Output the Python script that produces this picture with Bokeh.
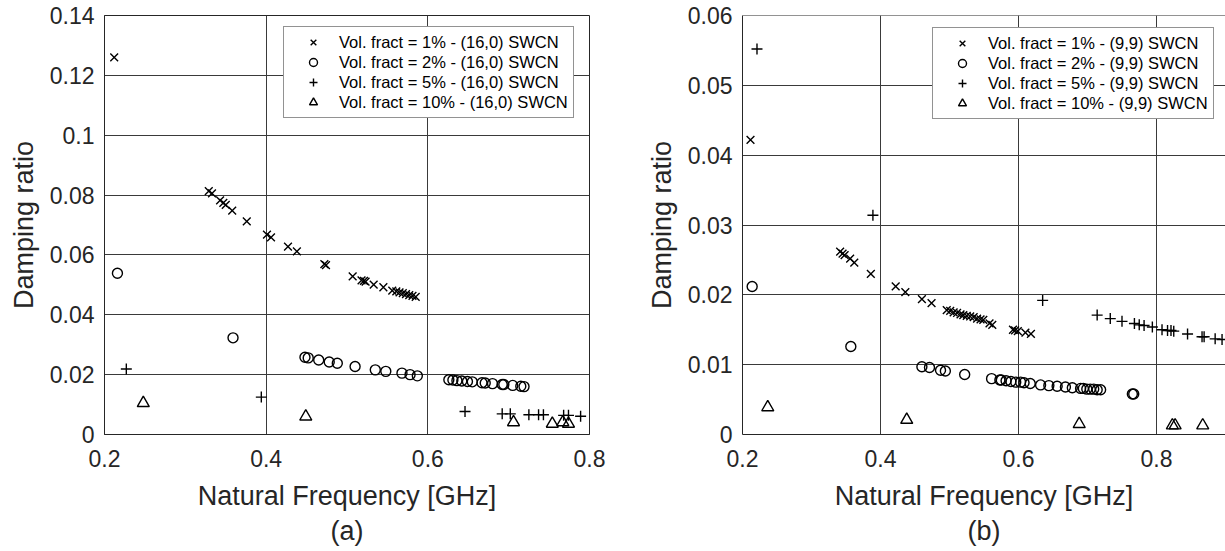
from bokeh.plotting import figure
from bokeh.layouts import row
from bokeh.models import (Range1d, FixedTicker, Legend, LegendItem, Title, Span)
from bokeh.embed import file_html
from bokeh.resources import INLINE

# ---------------- data: (a) (16,0) SWCN ----------------
a_x_1 = [0.212, 0.329, 0.333, 0.343, 0.347, 0.350, 0.358, 0.376, 0.401, 0.406, 0.427, 0.438,
         0.472, 0.474, 0.507, 0.518, 0.521, 0.523, 0.533, 0.545, 0.556, 0.561, 0.565, 0.569,
         0.573, 0.577, 0.581, 0.585]
a_y_1 = [0.126, 0.0813, 0.0806, 0.0782, 0.0774, 0.0767, 0.0748, 0.0712, 0.0668, 0.0659, 0.0628,
         0.0612, 0.0569, 0.0566, 0.0528, 0.0515, 0.0513, 0.0511, 0.0501, 0.0492, 0.0481, 0.0478,
         0.0475, 0.0472, 0.0469, 0.0466, 0.0463, 0.0460]
a_x_2 = [0.216, 0.359, 0.448, 0.452, 0.465, 0.478, 0.488, 0.510, 0.535, 0.548, 0.568, 0.578,
         0.587, 0.626, 0.631, 0.636, 0.642, 0.649, 0.655, 0.667, 0.671, 0.680, 0.692, 0.694,
         0.705, 0.715, 0.719]
a_y_2 = [0.0539, 0.0323, 0.0258, 0.0256, 0.0249, 0.0242, 0.0238, 0.0227, 0.0216, 0.0211, 0.0205,
         0.0200, 0.0196, 0.0183, 0.0182, 0.0180, 0.0179, 0.0177, 0.0176, 0.0173, 0.0172, 0.0170,
         0.0167, 0.0167, 0.0164, 0.0161, 0.0160]
a_x_5 = [0.227, 0.394, 0.646, 0.692, 0.702, 0.725, 0.737, 0.743, 0.768, 0.774, 0.789]
a_y_5 = [0.0219, 0.0125, 0.0077, 0.0069, 0.0069, 0.0066, 0.0066, 0.0066, 0.0064, 0.0064, 0.0061]
a_x_10 = [0.248, 0.449, 0.706, 0.754, 0.767, 0.774]
a_y_10 = [0.0105, 0.0060, 0.0041, 0.0036, 0.0041, 0.0036]

# ---------------- data: (b) (9,9) SWCN ----------------
b_x_1 = [0.2116, 0.3415, 0.345, 0.348, 0.356, 0.362, 0.386, 0.422, 0.436, 0.460, 0.474, 0.496,
         0.501, 0.506, 0.511, 0.516, 0.520, 0.525, 0.530, 0.535, 0.540, 0.545, 0.549, 0.558,
         0.562, 0.592, 0.595, 0.599, 0.610, 0.618]
b_y_1 = [0.0422, 0.0262, 0.0259, 0.0257, 0.0252, 0.0246, 0.0230, 0.0212, 0.0204, 0.0194, 0.0188,
         0.0178, 0.0177, 0.0175, 0.0174, 0.0172, 0.0171, 0.0170, 0.0169, 0.0168, 0.0166, 0.0165,
         0.0164, 0.0159, 0.0157, 0.0150, 0.0149, 0.0148, 0.0146, 0.0144]
b_x_2 = [0.214, 0.357, 0.460, 0.471, 0.487, 0.494, 0.522, 0.561, 0.573, 0.575, 0.582, 0.589,
         0.596, 0.603, 0.608, 0.617, 0.632, 0.644, 0.656, 0.668, 0.678, 0.690, 0.694, 0.699,
         0.704, 0.709, 0.714, 0.719, 0.765, 0.767]
b_y_2 = [0.0212, 0.0126, 0.0097, 0.0096, 0.0092, 0.0091, 0.0086, 0.0080, 0.0078, 0.0078, 0.0077,
         0.0076, 0.0075, 0.0075, 0.0074, 0.0073, 0.0071, 0.0070, 0.0069, 0.0068, 0.0067, 0.0066,
         0.0066, 0.0065, 0.0065, 0.0065, 0.0064, 0.0064, 0.0058, 0.0058]
b_x_5 = [0.221, 0.389, 0.635, 0.714, 0.733, 0.750, 0.768, 0.775, 0.782, 0.794, 0.808, 0.816,
         0.821, 0.825, 0.845, 0.866, 0.869, 0.885, 0.895]
b_y_5 = [0.0552, 0.0314, 0.0192, 0.0171, 0.0166, 0.0162, 0.0159, 0.0157, 0.0156, 0.0154, 0.0150,
         0.0149, 0.0149, 0.0148, 0.0144, 0.0140, 0.0140, 0.0137, 0.0136]
b_x_10 = [0.2366, 0.438, 0.688, 0.823, 0.827, 0.867]
b_y_10 = [0.0039, 0.0021, 0.0015, 0.0013, 0.0013, 0.0013]

a_labels = ["Vol. fract = 1% - (16,0) SWCN", "Vol. fract = 2% - (16,0) SWCN",
            "Vol. fract = 5% - (16,0) SWCN", "Vol. fract = 10% - (16,0) SWCN"]
b_labels = ["Vol. fract = 1% - (9,9) SWCN", "Vol. fract = 2% - (9,9) SWCN",
            "Vol. fract = 5% - (9,9) SWCN", "Vol. fract = 10% - (9,9) SWCN"]

x_ticks = [0.2, 0.4, 0.6, 0.8]
x_tick_labels = ["0.2", "0.4", "0.6", "0.8"]
a_y_ticks = [0.0, 0.02, 0.04, 0.06, 0.08, 0.1, 0.12, 0.14]
a_y_tick_labels = ["0", "0.02", "0.04", "0.06", "0.08", "0.1", "0.12", "0.14"]
b_y_ticks = [0.0, 0.01, 0.02, 0.03, 0.04, 0.05, 0.06]
b_y_tick_labels = ["0", "0.01", "0.02", "0.03", "0.04", "0.05", "0.06"]

x_title = "Natural Frequency [GHz]"
y_title = "Damping ratio"
captions = ["(a)", "(b)"]

FONT = "Liberation Sans"
DARK = "#262626"
GRID = "#3a3a3a"


def make_panel(width, xr, yr, yticks, ylabels, border_left, border_right, outline, caption):
    p = figure(width=width, height=551, x_range=Range1d(*xr), y_range=Range1d(*yr),
               output_backend="svg", toolbar_location=None,
               min_border_left=border_left, min_border_right=border_right,
               min_border_top=15, min_border_bottom=117)
    p.background_fill_color = "white"
    p.border_fill_color = "white"
    p.outline_line_color = DARK if outline else None
    p.outline_line_width = 1
    for ax, ticks, labels in ((p.xaxis, x_ticks, x_tick_labels), (p.yaxis, yticks, ylabels)):
        ax.ticker = FixedTicker(ticks=ticks)
        ax.major_label_overrides = dict(zip(ticks, labels))
        ax.major_label_text_font = FONT
        ax.major_label_text_font_size = "23px"
        ax.major_label_text_color = DARK
        ax.axis_label_text_font = FONT
        ax.axis_label_text_font_size = "27px"
        ax.axis_label_text_font_style = "normal"
        ax.axis_label_text_color = DARK
        ax.axis_line_color = DARK
        ax.major_tick_out = 0
        ax.major_tick_in = 0
        ax.minor_tick_out = 0
        ax.minor_tick_in = 0
    p.yaxis.major_label_standoff = 10
    p.yaxis.axis_label_standoff = 8
    p.xaxis.major_label_standoff = 15
    p.xaxis.axis_label_standoff = 11
    p.xaxis.axis_label = x_title
    p.yaxis.axis_label = y_title
    for g in (p.xgrid, p.ygrid):
        g.grid_line_color = GRID
        g.grid_line_width = 1
        g.grid_line_alpha = 1
    p.add_layout(Title(text=caption, align="center", text_font=FONT, text_font_size="27px",
                       text_font_style="normal", text_color=DARK, standoff=0, offset=0),
                 "below")
    return p


def add_series(p, data, labels, loc):
    markers = [("x", 11), ("circle", 10), ("cross", 11), ("triangle", 12)]
    items = []
    for (xs, ys), (m, s), lab in zip(data, markers, labels):
        r = p.scatter(xs, ys, marker=m, size=s, line_color="black", fill_color=None,
                      line_width=1.4)
        items.append(LegendItem(label=lab, renderers=[r]))
    leg = Legend(items=items, location=loc, margin=0, padding=5, spacing=0,
                 glyph_width=48, glyph_height=20, label_height=20, label_standoff=2,
                 label_text_font=FONT, label_text_font_size="16.5px", label_text_color="black",
                 border_line_color=DARK, border_line_width=1, background_fill_alpha=1)
    p.add_layout(leg, "center")


pa = make_panel(640, (0.2, 0.8), (0.0, 0.14), a_y_ticks, a_y_tick_labels, 104, 51, True,
                captions[0])
add_series(pa, [(a_x_1, a_y_1), (a_x_2, a_y_2), (a_x_5, a_y_5), (a_x_10, a_y_10)],
           a_labels, (179, 316))

pb = make_panel(585, (0.2, 0.9), (0.0, 0.06), b_y_ticks, b_y_tick_labels, 102, 0, False,
                captions[1])
pb.add_layout(Span(location=0.06, dimension="width", line_color=DARK, line_width=1))
add_series(pb, [(b_x_1, b_y_1), (b_x_2, b_y_2), (b_x_5, b_y_5), (b_x_10, b_y_10)],
           b_labels, (190, 315))

layout = row(pa, pb)
open("out.html", "w").write(file_html(layout, INLINE))
